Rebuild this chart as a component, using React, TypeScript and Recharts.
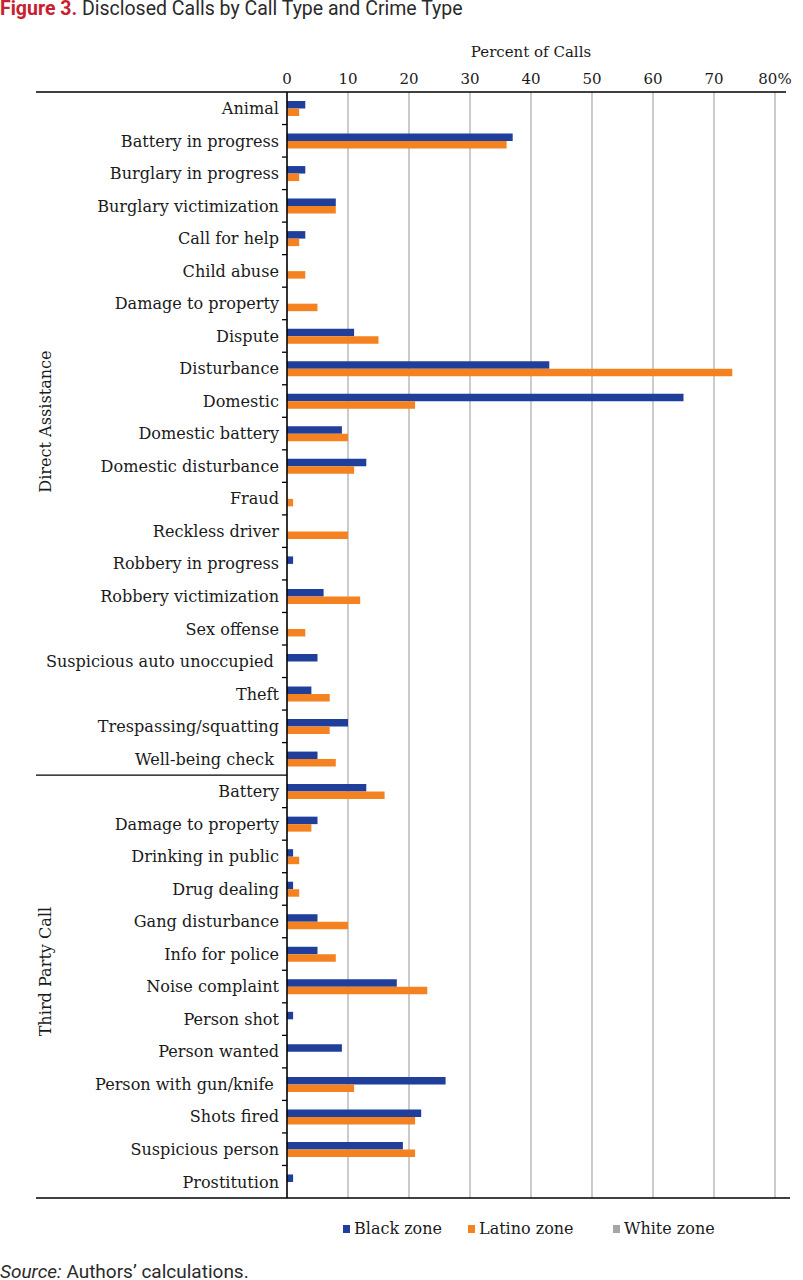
import React from 'react';
import { BarChart, Bar, XAxis, YAxis, CartesianGrid } from 'recharts';

const GROUPS = ['Direct Assistance', 'Third Party Call'];

const CATEGORIES_DIRECT = [
  'Animal', 'Battery in progress', 'Burglary in progress', 'Burglary victimization',
  'Call for help', 'Child abuse', 'Damage to property', 'Dispute', 'Disturbance',
  'Domestic', 'Domestic battery', 'Domestic disturbance', 'Fraud', 'Reckless driver',
  'Robbery in progress', 'Robbery victimization', 'Sex offense',
  'Suspicious auto unoccupied ', 'Theft', 'Trespassing/squatting', 'Well-being check ',
];
const BLACK_DIRECT = [3, 37, 3, 8, 3, 0, 0, 11, 43, 65, 9, 13, 0, 0, 1, 6, 0, 5, 4, 10, 5];
const LATINO_DIRECT = [2, 36, 2, 8, 2, 3, 5, 15, 73, 21, 10, 11, 1, 10, 0, 12, 3, 0, 7, 7, 8];

const CATEGORIES_THIRD = [
  'Battery', 'Damage to property', 'Drinking in public', 'Drug dealing',
  'Gang disturbance', 'Info for police', 'Noise complaint', 'Person shot',
  'Person wanted', 'Person with gun/knife ', 'Shots fired', 'Suspicious person', 'Prostitution',
];
const BLACK_THIRD = [13, 5, 1, 1, 5, 5, 18, 1, 9, 26, 22, 19, 1];
const LATINO_THIRD = [16, 4, 2, 2, 10, 8, 23, 0, 0, 11, 21, 21, 0];

const X_TICKS = [0, 10, 20, 30, 40, 50, 60, 70, 80];

const LEGEND = [
  { name: 'Black zone', color: '#1f3f9a' },
  { name: 'Latino zone', color: '#f58220' },
  { name: 'White zone', color: '#a6a6a6' },
];

const data = [
  ...CATEGORIES_DIRECT.map((c, i) => ({
    key: `d${i}`, label: c, group: 0, black: BLACK_DIRECT[i], latino: LATINO_DIRECT[i],
  })),
  ...CATEGORIES_THIRD.map((c, i) => ({
    key: `t${i}`, label: c, group: 1, black: BLACK_THIRD[i], latino: LATINO_THIRD[i],
  })),
];
const labelOf: Record<string, string> = {};
data.forEach((d) => { labelOf[d.key] = d.label; });

const W = 803;
const CH = 1200;
const M_TOP = 40;
const X_AXIS_H = 52;
const Y_AXIS_W = 287;
const M_RIGHT = 28;
const M_BOTTOM = 2;
const PLOT_TOP = M_TOP + X_AXIS_H;
const PLOT_BOTTOM = CH - M_BOTTOM;
const BAND = (PLOT_BOTTOM - PLOT_TOP) / data.length;
const N_DIRECT = CATEGORIES_DIRECT.length;
const MID_DIRECT = Math.floor((N_DIRECT - 1) / 2);
const MID_THIRD = N_DIRECT + Math.floor((CATEGORIES_THIRD.length - 1) / 2);

const SERIF = '"DejaVu Serif", serif';
const TXT = '#1a1a1a';
const LABEL_FS = 16.1;

function YTick(props: any) {
  const { x, y, payload } = props;
  const index = props.index ?? payload?.index ?? 0;
  const label = labelOf[payload.value] ?? '';
  const axisX = Y_AXIS_W;
  const topB = y - BAND / 2;
  const botB = y + BAND / 2;
  return (
    <g>
      <text
        x={x}
        y={y}
        dy="0.36em"
        textAnchor="end"
        fontFamily={SERIF}
        fontSize={LABEL_FS}
        fill={TXT}
        style={{ whiteSpace: 'pre' }}
      >
        {label}
      </text>
      {index > 0 && index !== N_DIRECT && (
        <line x1={axisX - 5} x2={axisX} y1={topB} y2={topB} stroke="#000" strokeWidth={1.3} />
      )}
      {index === 0 && (
        <line x1={36} x2={786} y1={topB} y2={topB} stroke="#000" strokeWidth={1.5} />
      )}
      {index === N_DIRECT && (
        <line x1={36} x2={axisX} y1={topB} y2={topB} stroke="#000" strokeWidth={1.3} />
      )}
      {index === data.length - 1 && (
        <line x1={36} x2={790} y1={botB} y2={botB} stroke="#000" strokeWidth={1.5} />
      )}
      {index === MID_DIRECT && (
        <text
          x={45}
          y={y - 12}
          transform={`rotate(-90 45 ${y - 12})`}
          textAnchor="middle"
          dy="0.36em"
          fontFamily={SERIF}
          fontSize={LABEL_FS}
          fill={TXT}
        >
          {GROUPS[0]}
        </text>
      )}
      {index === MID_THIRD && (
        <text
          x={45}
          y={y - 15}
          transform={`rotate(-90 45 ${y - 15})`}
          textAnchor="middle"
          dy="0.36em"
          fontFamily={SERIF}
          fontSize={LABEL_FS}
          fill={TXT}
        >
          {GROUPS[1]}
        </text>
      )}
    </g>
  );
}

export default function App() {
  return (
    <div
      style={{
        position: 'absolute', left: 0, top: 0, width: W, height: 1280,
        background: '#fff', overflow: 'hidden',
      }}
    >
      <div
        style={{
          position: 'absolute', left: 0, top: -1, whiteSpace: 'nowrap',
          fontFamily: 'Roboto, sans-serif', fontSize: 19.5, lineHeight: '19.5px', color: '#2a2a2a',
        }}
      >
        <span style={{ color: '#c8202f', fontWeight: 700 }}>Figure 3.</span> Disclosed Calls by Call Type and Crime Type
      </div>
      <div style={{ position: 'absolute', left: 0, top: 0 }}>
        <BarChart
          width={W}
          height={CH}
          data={data}
          layout="vertical"
          margin={{ top: M_TOP, right: M_RIGHT, left: 0, bottom: M_BOTTOM }}
          barGap={0}
        >
          <CartesianGrid horizontal={false} stroke="#a9a9a9" strokeWidth={1.2} />
          <XAxis
            type="number"
            orientation="top"
            domain={[0, 80]}
            ticks={X_TICKS}
            height={X_AXIS_H}
            axisLine={false}
            tickLine={false}
            interval={0}
            tickFormatter={(v: number) => (v === 80 ? '80%' : String(v))}
            tick={{ fontFamily: SERIF, fontSize: 15, fill: TXT }}
            label={{
              value: 'Percent of Calls', position: 'insideTop', offset: 6,
              fontFamily: SERIF, fontSize: 15, fill: TXT,
            }}
          />
          <YAxis
            type="category"
            dataKey="key"
            width={Y_AXIS_W}
            interval={0}
            axisLine={{ stroke: '#000', strokeWidth: 1.5 }}
            tickLine={false}
            tick={(p: any) => <YTick {...p} />}
          />
          <Bar dataKey="black" fill={LEGEND[0].color} barSize={7.5} isAnimationActive={false} />
          <Bar dataKey="latino" fill={LEGEND[1].color} barSize={7.5} isAnimationActive={false} />
        </BarChart>
      </div>
      <div
        style={{
          position: 'absolute', left: 0, top: 1219, width: W, height: 20,
          fontFamily: SERIF, fontSize: 16, lineHeight: '20px', color: TXT,
        }}
      >
        {LEGEND.map((l, i) => (
          <div
            key={l.name}
            style={{ position: 'absolute', left: [343, 468, 613][i], top: 0, whiteSpace: 'nowrap' }}
          >
            <span
              style={{
                display: 'inline-block', width: 7, height: 8, background: l.color,
                marginRight: 4, verticalAlign: 'middle', position: 'relative', top: -1,
              }}
            />
            {l.name}
          </div>
        ))}
      </div>
      <div
        style={{
          position: 'absolute', left: 0, top: 1262, whiteSpace: 'nowrap',
          fontFamily: 'Roboto, sans-serif', fontSize: 19, lineHeight: '19px', color: '#2a2a2a',
        }}
      >
        <i>Source:</i> Authors’ calculations.
      </div>
    </div>
  );
}
